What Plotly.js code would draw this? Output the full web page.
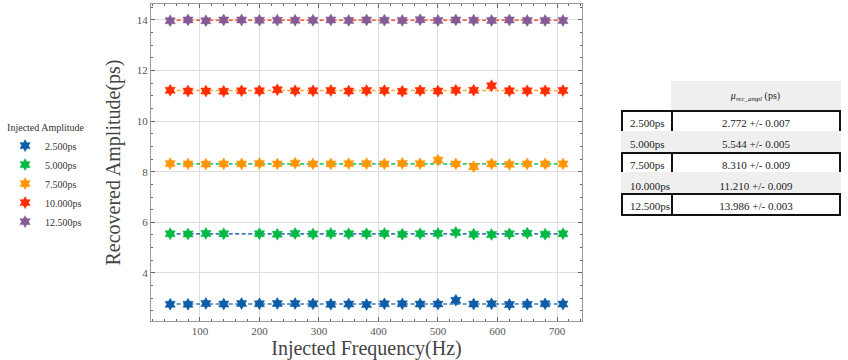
<!DOCTYPE html>
<html>
<head>
<meta charset="utf-8">
<script src="https://cdn.plot.ly/plotly-3.0.1.min.js"></script>
<style>
  body { margin: 0; background: #fff; }
  #plot { width: 848px; height: 360px; }
</style>
</head>
<body>
<div id="plot"></div>
<script>
// injected frequencies (Hz)
const freqs = [50, 80, 110, 140, 170, 200, 230, 260, 290, 320, 350, 380,
               410, 440, 470, 500, 530, 560, 590, 620, 650, 680, 710];

// recovered amplitudes (ps) per injected amplitude
const amp_2500 = [2.76, 2.76, 2.79, 2.77, 2.79, 2.78, 2.79, 2.79, 2.78, 2.76, 2.77, 2.75,
                  2.78, 2.78, 2.77, 2.77, 2.92, 2.77, 2.78, 2.75, 2.76, 2.78, 2.77];
const amp_5000 = [5.55, 5.54, 5.56, 5.55, null, 5.55, 5.53, 5.56, 5.54, 5.56, 5.55, 5.55,
                  5.56, 5.53, 5.55, 5.56, 5.60, 5.53, 5.52, 5.55, 5.57, 5.53, 5.55];
const amp_7500 = [8.32, 8.31, 8.30, 8.31, 8.31, 8.33, 8.31, 8.34, 8.31, 8.31, 8.32, 8.32,
                  8.31, 8.33, 8.32, 8.46, 8.31, 8.20, 8.31, 8.29, 8.31, 8.31, 8.31];
const amp_10000 = [11.22, 11.19, 11.19, 11.18, 11.20, 11.20, 11.24, 11.20, 11.20, 11.21, 11.19, 11.21,
                   11.21, 11.18, 11.21, 11.19, 11.22, 11.22, 11.40, 11.20, 11.20, 11.20, 11.21];
const amp_12500 = [13.97, 14.00, 13.97, 14.00, 14.00, 13.99, 13.99, 13.99, 13.99, 14.00, 13.98, 14.00,
                   13.99, 13.98, 14.01, 13.98, 14.00, 13.99, 13.98, 14.00, 13.98, 13.98, 13.98];

const series_names = ["2.500ps", "5.000ps", "7.500ps", "10.000ps", "12.500ps"];
const series_values = [amp_2500, amp_5000, amp_7500, amp_10000, amp_12500];

// table: mean recovered amplitude +/- error
const mean_rec = [2.772, 5.544, 8.310, 11.210, 13.986];
const err_rec = [0.007, 0.005, 0.009, 0.009, 0.003];
const table_head = "<i>μ<sub>rec_ampl</sub></i> (ps)";

const colors = ["#0C5DA5", "#00B945", "#FF9500", "#FF2C00", "#845B97"];
// the dashed mean line takes the previous colour in the cycle
const line_colors = ["#0C5DA5", "#0C5DA5", "#00B945", "#FF9500", "#FF2C00"];

const serif = "Liberation Serif, Times New Roman, serif";

let data = [];

// dashed mean lines first so the markers sit on top
series_values.forEach((vals, i) => {
    data.push({
        x: [freqs[0], freqs[freqs.length - 1]],
        y: [mean_rec[i], mean_rec[i]],
        mode: "lines",
        line: { color: line_colors[i], width: 1.6, dash: "4px,2.5px" },
        opacity: 0.8,
        showlegend: false,
        hoverinfo: "skip"
    });
});

series_values.forEach((vals, i) => {
    data.push({
        x: freqs,
        y: vals,
        mode: "markers",
        name: series_names[i],
        marker: { symbol: "hexagram", size: 9, color: colors[i],
                  line: { width: 0.5, color: colors[i] } },
        error_y: { type: "constant", value: 0.04, color: colors[i], thickness: 1, width: 3 }
    });
});

// header row is put in the cells so the black row boxes are drawn above it
const col_labels = [""].concat(series_names);
const col_values = [table_head].concat(mean_rec.map((m, i) => m.toFixed(3) + " +/- " + err_rec[i].toFixed(3)));
const row_fill = ["#ffffff", "#efefef", "#ffffff", "#efefef", "#ffffff"];
const row_line = ["#111111", "#efefef", "#111111", "#efefef", "#111111"];

data.push({
    type: "table",
    domain: { x: [622 / 848, 841 / 848], y: [0.2, 0.804] },
    columnwidth: [50, 168],
    header: {
        values: [],
        height: 0,
        line: { width: 0 },
        fill: { color: "rgba(0,0,0,0)" }
    },
    cells: {
        values: [col_labels, col_values],
        fill: { color: [["#ffffff"].concat(row_fill), ["#efefef"].concat(row_fill)] },
        line: { color: [["#ffffff"].concat(row_line), ["#efefef"].concat(row_line)], width: 1.8 },
        align: ["left", "center"],
        height: 20.7,
        font: { family: serif, size: [[11, 11, 11, 11, 11, 11], [10, 11, 11, 11, 11, 11]], color: "#222" }
    }
});

let layout = {
    width: 848,
    height: 360,
    margin: { l: 0, r: 0, t: 4, b: 39 },
    paper_bgcolor: "#ffffff",
    plot_bgcolor: "#ffffff",
    font: { family: serif, color: "#444" },
    showlegend: true,
    legend: {
        x: 0.006, y: 0.64, xanchor: "left", yanchor: "top",
        title: { text: "Injected Amplitude", side: "top", font: { size: 10, color: "#333" } },
        font: { size: 10, color: "#333" },
        bgcolor: "rgba(0,0,0,0)",
        tracegroupgap: 0,
        itemwidth: 30
    },
    xaxis: {
        domain: [151 / 848, 582 / 848],
        range: [17.8, 742],
        dtick: 100,
        tick0: 0,
        ticks: "inside",
        ticklen: 4,
        tickcolor: "#666",
        mirror: "allticks",
        showline: true,
        linecolor: "#999",
        linewidth: 1,
        showgrid: true,
        gridcolor: "#dedede",
        zeroline: false,
        tickfont: { size: 11, color: "#555" },
        minor: { dtick: 20, ticks: "inside", ticklen: 2, tickcolor: "#666", showgrid: false },
        title: { text: "Injected Frequency(Hz)", font: { size: 20, color: "#444" }, standoff: 6 }
    },
    yaxis: {
        range: [2.1, 14.63],
        dtick: 2,
        tick0: 0,
        ticks: "inside",
        ticklen: 4,
        tickcolor: "#666",
        mirror: "allticks",
        showline: true,
        linecolor: "#999",
        linewidth: 1,
        showgrid: true,
        gridcolor: "#dedede",
        zeroline: false,
        tickfont: { size: 11, color: "#555" },
        minor: { dtick: 0.5, ticks: "inside", ticklen: 2, tickcolor: "#666", showgrid: false },
        title: { text: "Recovered Amplitude(ps)", font: { size: 20, color: "#444" }, standoff: 10 }
    }
};

let config = { responsive: false, displayModeBar: false, staticPlot: true };

Plotly.newPlot("plot", data, layout, config);
</script>
</body>
</html>
